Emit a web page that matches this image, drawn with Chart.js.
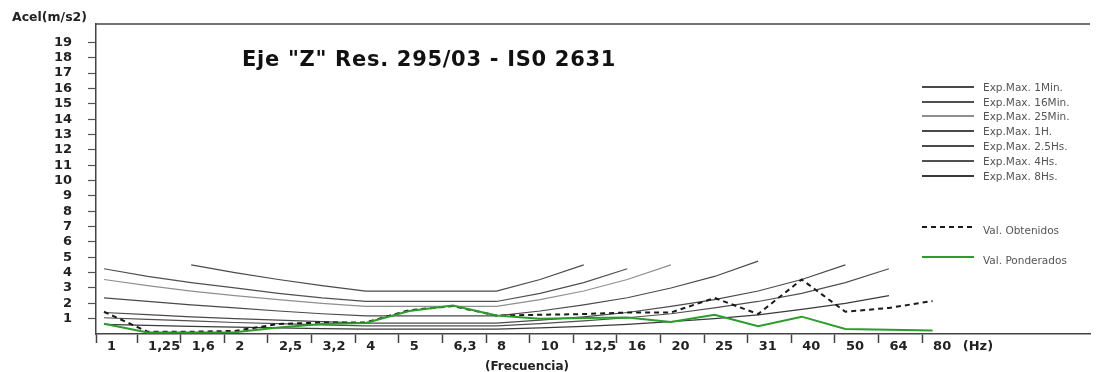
<!DOCTYPE html>
<html><head><meta charset="utf-8">
<script src="https://cdn.jsdelivr.net/npm/chart.js@4.4.1/dist/chart.umd.min.js"></script>
<style>html,body{margin:0;padding:0;background:#fff;}#wrap{width:1096px;height:372px;}</style>
</head><body><div id="wrap"><canvas id="c" width="1096" height="372"></canvas></div>
<script>
// ---- data ----
const frequencies = [1, 1.25, 1.6, 2, 2.5, 3.15, 4, 5, 6.3, 8, 10, 12.5, 16, 20, 25, 31.5, 40, 50, 63, 80];
const xTickLabels = ['1','1,25','1,6','2','2,5','3,2','4','5','6,3','8','10','12,5','16','20','25','31','40','50','64','80','(Hz)'];
const yTickValues = [1,2,3,4,5,6,7,8,9,10,11,12,13,14,15,16,17,18,19];
const titleText = 'Eje "Z" Res. 295/03 - IS0 2631';
const yTitle = 'Acel(m/s2)';
const xTitle = '(Frecuencia)';

const expMax1Min  = [null, null, 4.5, 4.0, 3.55, 3.15, 2.8, 2.8, 2.8, 2.8, 3.55, 4.5, null, null, null, null, null, null, null, null];
const expMax16Min = [4.25, 3.75, 3.35, 3.0, 2.65, 2.35, 2.12, 2.12, 2.12, 2.12, 2.65, 3.35, 4.25, null, null, null, null, null, null, null];
const expMax25Min = [3.55, 3.15, 2.8, 2.5, 2.24, 2.0, 1.8, 1.8, 1.8, 1.8, 2.24, 2.8, 3.55, 4.5, null, null, null, null, null, null];
const expMax1H    = [2.36, 2.12, 1.9, 1.7, 1.5, 1.32, 1.18, 1.18, 1.18, 1.18, 1.5, 1.9, 2.36, 3.0, 3.75, 4.75, null, null, null, null];
const expMax25Hs  = [1.4, 1.26, 1.12, 1.0, 0.9, 0.8, 0.71, 0.71, 0.71, 0.71, 0.9, 1.12, 1.4, 1.8, 2.24, 2.8, 3.55, 4.5, null, null];
const expMax4Hs   = [1.06, 0.95, 0.85, 0.75, 0.67, 0.6, 0.53, 0.53, 0.53, 0.53, 0.67, 0.85, 1.06, 1.32, 1.7, 2.12, 2.65, 3.35, 4.25, null];
const expMax8Hs   = [0.63, 0.56, 0.5, 0.45, 0.4, 0.355, 0.315, 0.315, 0.315, 0.315, 0.4, 0.5, 0.63, 0.8, 1.0, 1.25, 1.6, 2.0, 2.5, null];
const valObtenidos  = [1.45, 0.15, 0.15, 0.2, 0.65, 0.75, 0.75, 1.55, 1.82, 1.2, 1.25, 1.3, 1.4, 1.4, 2.35, 1.3, 3.55, 1.45, 1.7, 2.15];
const valPonderados = [0.67, 0.1, 0.1, 0.12, 0.42, 0.65, 0.72, 1.5, 1.85, 1.2, 1.0, 1.05, 1.08, 0.78, 1.25, 0.5, 1.13, 0.33, 0.28, 0.22];

const seriesNames = ['Exp.Max. 1Min.','Exp.Max. 16Min.','Exp.Max. 25Min.','Exp.Max. 1H.','Exp.Max. 2.5Hs.','Exp.Max. 4Hs.','Exp.Max. 8Hs.','Val. Obtenidos','Val. Ponderados'];

// ---- build ----
const toPts = arr => arr.map((v, i) => ({ x: i, y: v }));
const curveColors = ['#4a4a4a', '#505050', '#8f8f8f', '#4a4a4a', '#4a4a4a', '#505050', '#3a3a3a'];
const curves = [expMax1Min, expMax16Min, expMax25Min, expMax1H, expMax25Hs, expMax4Hs, expMax8Hs];
const datasets = curves.map((arr, k) => ({
  label: seriesNames[k], data: toPts(arr), borderColor: curveColors[k], borderWidth: 1.2,
  pointRadius: 0, tension: 0, order: 2 + k, spanGaps: false
}));
datasets.push({ label: seriesNames[7], data: toPts(valObtenidos), borderColor: '#1a1a1a', borderWidth: 2,
  borderDash: [5, 4], pointRadius: 0, tension: 0, order: 1 });
datasets.push({ label: seriesNames[8], data: toPts(valPonderados), borderColor: '#2a9d2a', borderWidth: 2,
  pointRadius: 0, tension: 0, order: 0 });

const X_MIN = -0.183, X_MAX = 22.61;
const xTickPos = frequencies.map((f, i) => i === 0 ? X_MIN : i - 0.24);
xTickPos.push(19.44);

const labelFont = { family: 'DejaVu Sans', weight: 'bold', size: 13 };

const decor = {
  id: 'decor',
  afterDraw(chart) {
    const { ctx, chartArea: a } = chart;
    ctx.save();
    ctx.strokeStyle = '#444'; ctx.lineWidth = 1.5;
    ctx.beginPath(); ctx.moveTo(a.left - 0.75, a.top); ctx.lineTo(a.right, a.top); ctx.stroke();

    ctx.fillStyle = '#111'; ctx.textAlign = 'left'; ctx.textBaseline = 'alphabetic';
    ctx.font = 'bold 21px "DejaVu Sans"';
    try { ctx.letterSpacing = '0.7px'; } catch (e) {}
    ctx.fillText(titleText, 242, 66);
    try { ctx.letterSpacing = '0px'; } catch (e) {}

    ctx.font = 'bold 12.5px "DejaVu Sans"'; ctx.fillStyle = '#222';
    ctx.fillText(yTitle, 12, 21);
    ctx.textAlign = 'center'; ctx.font = 'bold 12px "DejaVu Sans"';
    ctx.fillText(xTitle, 527, 370);

    // legend
    const rows = [87, 102, 116, 131, 146, 161, 176, 227, 257];
    ctx.textAlign = 'left'; ctx.textBaseline = 'middle'; ctx.font = '10.5px "DejaVu Sans"';
    rows.forEach((y, r) => {
      const ds = chart.data.datasets[r];
      ctx.strokeStyle = ds.borderColor; ctx.lineWidth = 2;
      ctx.setLineDash(ds.borderDash || []);
      ctx.beginPath(); ctx.moveTo(922, y); ctx.lineTo(974, y); ctx.stroke();
      ctx.setLineDash([]);
      ctx.fillStyle = '#555';
      ctx.fillText(ds.label, 983, y + (r >= 7 ? 4 : 1));
    });
    ctx.restore();
  }
};

new Chart(document.getElementById('c'), {
  type: 'line',
  data: { datasets },
  plugins: [decor],
  options: {
    responsive: false, animation: false, devicePixelRatio: 1,
    layout: { padding: { left: 0, right: 6, top: 24, bottom: 0 } },
    plugins: { legend: { display: false }, tooltip: { enabled: false } },
    scales: {
      x: {
        type: 'linear', min: X_MIN, max: X_MAX,
        afterBuildTicks: s => { s.ticks = xTickPos.map(v => ({ value: v })); },
        afterFit: s => { s.height = 38; },
        ticks: { autoSkip: false, maxRotation: 0, minRotation: 0, align: 'start', labelOffset: 11, padding: -4,
          font: labelFont, color: '#222', callback: (v, i) => xTickLabels[i] },
        grid: { drawOnChartArea: false, drawTicks: true, tickLength: 9, tickWidth: 1.5,
          tickColor: c => c.index === 20 ? 'rgba(0,0,0,0)' : '#444' },
        border: { display: true, color: '#444', width: 1.5 }
      },
      y: {
        min: 0, max: 20.2,
        afterBuildTicks: s => { s.ticks = yTickValues.map(v => ({ value: v })); },
        afterFit: s => { s.width = 96; },
        ticks: { autoSkip: false, padding: 16, font: labelFont, color: '#222', callback: v => String(v) },
        grid: { drawOnChartArea: false, drawTicks: true, tickLength: 8, tickWidth: 1.2, tickColor: '#555' },
        border: { display: true, color: '#444', width: 1.5 }
      }
    }
  }
});
</script></body></html>
